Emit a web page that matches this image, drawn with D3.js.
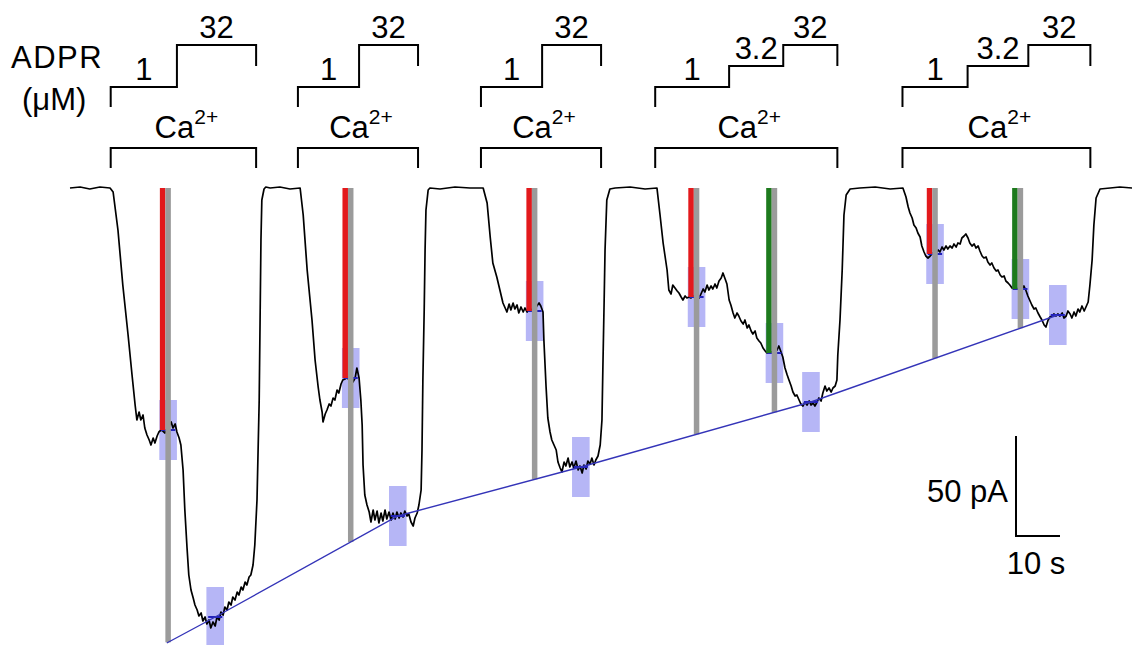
<!DOCTYPE html>
<html>
<head>
<meta charset="utf-8">
<script src="https://cdn.jsdelivr.net/npm/d3@7"></script>
<style>
  body { margin: 0; background: #fff; }
  svg { display: block; }
  text { font-family: "Liberation Sans", Arial, Helvetica, sans-serif; fill: #000; }
</style>
</head>
<body>
<div id="chart"></div>
<script>
// whole-cell current traces, time in s, current in pA (0 = baseline)
const sweep1 = [[0,0],[2.3,0.5],[4.5,-0.5],[6.8,0.5],[9.1,0],[9.8,-2],[10.9,-21],[12.0,-48.5],[13.2,-73.5],[14.1,-93.5],[14.8,-108.5],
  [15.2,-116],[15.7,-112],[16.1,-116],[16.6,-113.5],[17.0,-120],[17.5,-123.5],[18.0,-126],[18.4,-128.5],[18.9,-125],[19.3,-127.5],
  [19.8,-124],[20.2,-122],[20.7,-121],[21.1,-121.5],[21.6,-122.5],[22.0,-121],[22.5,-119],[23.0,-117],[23.4,-120],[23.9,-118],
  [24.3,-122],[24.8,-125],[25.2,-128.5],[25.7,-141],[26.1,-161],[26.6,-180],[27.0,-193.5],[27.5,-201],[28.0,-205],[28.4,-208.5],
  [28.9,-211],[29.3,-214],[29.8,-212.5],[30.2,-216.5],[30.7,-214.5],[31.1,-218],[31.6,-216],[32.0,-220],[32.5,-217],[33.0,-219],
  [33.4,-214.5],[33.9,-216],[34.3,-212],[34.8,-213.5],[35.2,-209.5],[35.7,-211],[36.1,-207],[36.6,-208.5],[37.0,-204.5],[37.5,-206],
  [38.0,-202],[38.4,-203.5],[38.9,-199.5],[39.3,-201],[39.8,-197],[40.2,-198.5],[40.7,-194.5],[41.1,-193.5],[41.6,-188.5],[42.0,-178.5],
  [42.5,-156],[43.0,-106],[43.2,-66],[43.4,-26],[43.6,-6],[44.1,-0.5],[44.5,0.5]];
const sweep2 = [[45.5,0],[47.7,0.5],[50.0,-0.5],[52.3,0],[53.0,-13.5],[53.9,-41],[55.0,-66],[55.7,-86],[56.4,-99.5],[56.8,-106],
  [57.3,-112],[57.5,-117],[58.0,-113],[58.4,-111],[58.9,-108],[59.3,-109],[59.8,-105],[60.2,-106],[60.7,-101],[61.1,-102.5],
  [61.6,-98],[62.0,-96],[62.5,-95.5],[63.0,-94.5],[63.4,-96],[63.9,-94],[64.3,-97],[64.8,-95],[65.2,-90],[65.7,-95],[66.1,-106],
  [66.4,-118.5],[66.6,-138.5],[67.0,-153.5],[67.5,-158.5],[68.0,-162],[68.4,-167],[68.9,-161],[69.3,-166],[69.8,-161.5],[70.2,-167.5],
  [70.7,-162.5],[71.1,-166.5],[71.6,-161],[72.0,-165.5],[72.5,-162],[73.0,-166],[73.4,-162.5],[73.9,-165.5],[74.3,-162],[74.8,-165],
  [75.2,-162.5],[75.7,-164.5],[76.1,-161.5],[76.6,-164],[77.0,-163],[77.5,-167],[78.0,-169],[78.4,-165],[78.9,-162.5],[79.3,-158.5],
  [79.8,-151],[80.0,-131],[80.2,-96],[80.5,-61],[80.7,-31],[80.9,-11],[81.4,-1],[81.8,0]];
const sweep3 = [[84.1,-0.5],[87.5,0.5],[90.9,0],[93.9,0],[94.8,-7.5],[95.5,-24.5],[96.1,-37.5],[97.0,-44.5],[97.7,-51],[98.4,-57.5],
  [98.9,-60],[99.3,-62],[99.8,-58],[100.2,-61],[100.7,-57.5],[101.1,-60.5],[101.6,-58.5],[102.0,-62.5],[102.5,-59.5],[103.0,-62],
  [103.4,-60],[103.9,-62],[104.3,-60.5],[104.8,-61.5],[105.2,-60],[105.7,-61],[106.1,-59],[106.6,-57.5],[107.0,-59],[107.5,-62],
  [107.7,-76],[108.2,-99.5],[108.6,-115],[109.1,-122],[109.5,-126],[110.0,-128.5],[110.5,-131],[110.9,-137],[111.4,-140],[111.8,-142],
  [112.3,-137],[112.7,-139],[113.2,-135],[113.6,-139.5],[114.1,-137],[114.5,-140],[115.0,-136.5],[115.5,-141],[115.9,-139],[116.4,-142.5],
  [116.8,-138.5],[117.3,-140.5],[117.7,-136.5],[118.2,-138],[118.6,-135],[119.1,-138.5],[119.5,-136],[120.0,-134],[120.5,-128.5],
  [120.9,-116],[121.1,-91],[121.4,-56],[121.6,-31],[122.0,-6],[122.7,-0.5]];
const sweep4 = [[123.9,0],[127.3,0.5],[130.7,-0.5],[133.4,0],[134.1,-13.5],[134.8,-27.5],[135.2,-33.5],[135.7,-41],[136.1,-51],[136.6,-53],
  [137.0,-48.5],[137.5,-50],[138.0,-51.5],[138.4,-52.5],[138.9,-54.5],[139.3,-56],[139.8,-54],[140.2,-55],[140.7,-54.5],[141.1,-55],
  [141.6,-54],[142.0,-55],[142.5,-54],[143.0,-55],[143.4,-53],[143.9,-50.5],[144.3,-52],[144.8,-48.5],[145.2,-51],[145.7,-49],
  [146.1,-50.5],[146.6,-48],[147.0,-50],[147.5,-46.5],[148.0,-45],[148.4,-42.5],[148.9,-45.5],[149.3,-48],[149.8,-56],[150.2,-58.5],
  [150.7,-62.5],[151.1,-65],[151.6,-62.5],[152.0,-64],[152.5,-66.5],[153.0,-68],[153.4,-66],[153.9,-70],[154.3,-68.5],[154.8,-71.5],
  [155.2,-73],[155.7,-71.5],[156.1,-75],[156.6,-76.5],[157.0,-77.5],[157.5,-80],[158.0,-81.5],[158.4,-82.5],[158.9,-82.5],[159.3,-82],
  [159.8,-82.5],[160.2,-82],[160.7,-81],[161.1,-79],[161.6,-82],[162.0,-84.5],[162.5,-90],[163.0,-93.5],[163.4,-96],[163.9,-99],
  [164.3,-102],[164.8,-104],[165.2,-103.5],[165.7,-106],[166.1,-108],[166.6,-109],[167.0,-107],[167.5,-108.5],[168.0,-106.5],
  [168.4,-108.5],[168.9,-107.5],[169.3,-109],[169.8,-107],[170.2,-105],[170.7,-106.5],[171.1,-102.5],[171.6,-99],[172.0,-101.5],
  [172.5,-100],[173.0,-102],[173.4,-100],[173.9,-99],[174.3,-96],[174.5,-83.5],[175.0,-66],[175.5,-41],[175.9,-13.5],[176.4,-3.5],[177.3,-0.5]];
const sweep5 = [[179.5,0],[183.0,0.5],[186.4,-0.5],[189.3,0],[190.0,-4.5],[190.5,-9.5],[190.9,-12.5],[191.4,-15],[191.8,-18.5],[192.3,-20],
  [192.7,-22.5],[193.2,-24.5],[193.6,-29],[194.1,-32],[194.5,-34],[195.0,-35],[195.5,-34],[195.9,-33],[196.4,-32],[196.8,-32.5],
  [197.3,-31],[197.7,-32],[198.2,-29.5],[198.6,-31],[199.1,-29],[199.5,-30.5],[200.0,-29],[200.5,-30],[200.9,-28],[201.4,-29.5],
  [201.8,-27.5],[202.3,-28],[202.7,-25],[203.2,-24],[203.6,-23],[204.1,-25],[204.5,-27.5],[205.0,-29],[205.5,-28],[205.9,-30],
  [206.4,-29],[206.8,-31.5],[207.3,-34],[207.7,-35],[208.2,-34.5],[208.6,-37],[209.1,-38.5],[209.5,-37.5],[210.0,-40],[210.5,-41.5],
  [210.9,-41],[211.4,-43.5],[211.8,-44.5],[212.3,-44],[212.7,-46.5],[213.2,-47.5],[213.6,-48.5],[214.1,-50],[214.5,-50.5],[215.0,-50],
  [215.5,-50.5],[215.9,-50],[216.4,-50.5],[216.8,-49],[217.3,-51.5],[217.7,-54],[218.2,-56.5],[218.6,-58.5],[219.1,-60.5],[219.5,-60],
  [220.0,-62.5],[220.5,-64.5],[220.9,-66],[221.4,-68.5],[221.8,-69.5],[222.3,-66],[222.7,-64.5],[223.2,-64],[223.6,-63],[224.1,-64],
  [224.5,-63],[225.0,-64],[225.5,-62.5],[225.9,-65],[226.4,-64],[226.8,-61.5],[227.3,-63],[227.7,-65],[228.2,-62],[228.6,-64],
  [229.1,-60.5],[229.5,-62],[230.0,-59],[230.5,-61.5],[230.9,-59.5],[231.4,-57],[231.8,-48.5],[232.3,-36],[232.7,-18.5],[233.2,-5],
  [234.1,-0.5],[236.4,0],[238.6,0.5],[241.4,0]];

// solution protocol per sweep
const caOn = [9.25, 51.8, 93.4, 133.0, 189.2];
const caOff = [42.3, 79.1, 120.7, 174.4, 231.9];
const adprConc = [["1", "32"], ["1", "32"], ["1", "32"], ["1", "3.2", "32"], ["1", "3.2", "32"]];
const adprOn = [[9.25, 24.3], [51.8, 65.7], [93.4, 107.3], [133.0, 149.8, 162.1], [189.2, 204.0, 217.8]];
const concLevels = ["1", "3.2", "32"];

// measurement points at end of the low-ADPR steps
const markTimes = [22.3, 63.8, 105.6, 142.4, 160.1, 196.6, 216.0];
const markLevels = [-121, -95, -61.5, -54.5, -82.5, -33, -50.5];
const markConc = ["1", "1", "1", "1", "3.2", "1", "3.2"];
// plateau at 32 uM ADPR
const finalTimes = [33.0, 74.5, 116.1, 168.4, 224.5];
const finalLevels = [-214.5, -164, -139.5, -107, -63.5];
// line through the 32 uM plateaus
const fitTimes = [22.0, 33.0, 74.5, 116.1, 168.4, 224.5];
const fitLevels = [-227.5, -214.5, -164, -139.5, -107, -63.5];

const width = 1132, height = 645;

const x = d3.scaleLinear().domain([0, 240]).range([70, 1126]);
const y = d3.scaleLinear().domain([-220, 0]).range([628, 188]);
const fit = d3.scaleLinear().domain(fitTimes).range(fitLevels);
const stepY = d3.scalePoint().domain(concLevels).range([87, 45]);
const markColor = d3.scaleOrdinal().domain(["1", "3.2"]).range(["#e3191c", "#1d7a1d"]);

const svg = d3.select("#chart").append("svg")
    .attr("width", width)
    .attr("height", height);

// averaging windows
const windows = markTimes.map((t, i) => [t, markLevels[i]])
    .concat(finalTimes.map((t, i) => [t, finalLevels[i]]));
const winW = 2.0, winH = 15;

svg.append("g")
    .selectAll("rect")
    .data(windows)
    .join("rect")
    .attr("x", d => x(d[0] - winW))
    .attr("y", d => y(d[1] + winH))
    .attr("width", d => x(d[0] + winW) - x(d[0] - winW))
    .attr("height", d => y(d[1] - winH) - y(d[1] + winH))
    .attr("fill", "#b6b6f6");

// trace
const trace = sweep1.concat(sweep2, sweep3, sweep4, sweep5);
const line = d3.line().x(d => x(d[0])).y(d => y(d[1]));

svg.append("path")
    .datum(trace)
    .attr("d", line)
    .attr("fill", "none")
    .attr("stroke", "#000")
    .attr("stroke-width", 1.7)
    .attr("stroke-linejoin", "round");

// averaged segment marks
svg.append("g")
    .selectAll("line")
    .data(windows)
    .join("line")
    .attr("x1", d => x(d[0] - winW * 0.8))
    .attr("x2", d => x(d[0] + winW * 0.8))
    .attr("y1", d => y(d[1]))
    .attr("y2", d => y(d[1]))
    .attr("stroke", "#2222bb")
    .attr("stroke-width", 2);

// bars: coloured = end of low ADPR, grey = down to fitted line
const barW = 1.25;
const bars = svg.append("g");
bars.selectAll("rect.col")
    .data(markTimes)
    .join("rect")
    .attr("class", "col")
    .attr("x", t => x(t - barW * 1.5))
    .attr("y", y(0))
    .attr("width", x(barW) - x(0))
    .attr("height", (t, i) => y(markLevels[i]) - y(0))
    .attr("fill", (t, i) => markColor(markConc[i]));
bars.selectAll("rect.grey")
    .data(markTimes)
    .join("rect")
    .attr("class", "grey")
    .attr("x", t => x(t - barW * 0.5))
    .attr("y", y(0))
    .attr("width", x(barW) - x(0))
    .attr("height", t => y(fit(t)) - y(0))
    .attr("fill", "#9b9b9b");

svg.append("path")
    .datum(fitTimes)
    .attr("d", d3.line().x(t => x(t)).y(t => y(fit(t))))
    .attr("fill", "none")
    .attr("stroke", "#3434b8")
    .attr("stroke-width", 1.4);

// protocol annotations
const fs = 31;
const ann = svg.append("g").attr("stroke", "#000").attr("stroke-width", 2).attr("fill", "none");

caOn.forEach((t0, i) => {
    const t1 = caOff[i];
    ann.append("path")
        .attr("d", `M${x(t0)},168V148H${x(t1)}V168`);

    const cx = (x(t0) + x(t1)) / 2;
    const ca = svg.append("text")
        .attr("x", cx + 3)
        .attr("y", 138)
        .attr("text-anchor", "middle")
        .attr("font-size", fs);
    ca.append("tspan").text("Ca");
    ca.append("tspan").attr("dy", -14).attr("font-size", 21).text("2+");

    const conc = adprConc[i], on = adprOn[i];
    let d = `M${x(on[0])},${stepY(conc[0]) + 20}`;
    conc.forEach((c, j) => {
        const xe = j < conc.length - 1 ? x(on[j + 1]) : x(t1);
        d += `V${stepY(c)}H${xe}`;
        svg.append("text")
            .attr("x", (x(on[j]) + xe) / 2)
            .attr("y", stepY(c) - 7)
            .attr("text-anchor", "middle")
            .attr("font-size", fs)
            .text(c);
    });
    d += `V${stepY(conc[conc.length - 1]) + 21}`;
    ann.append("path").attr("d", d);
});

svg.append("text").attr("x", 11).attr("y", 68).attr("font-size", fs)
    .attr("letter-spacing", 1.5).text("ADPR");
svg.append("text").attr("x", 22).attr("y", 110).attr("font-size", fs).text("(\u03bcM)");

// scale bar: 50 pA, 10 s
const sbT = 215, sbI = -174;
ann.append("path")
    .attr("d", `M${x(sbT)},${y(sbI + 50)}V${y(sbI)}H${x(sbT + 10)}`);
svg.append("text")
    .attr("x", x(sbT) - 8).attr("y", 502)
    .attr("text-anchor", "end").attr("font-size", fs)
    .text("50 pA");
svg.append("text")
    .attr("x", x(sbT + 5) - 2).attr("y", 574)
    .attr("text-anchor", "middle").attr("font-size", fs)
    .text("10 s");
</script>
</body>
</html>
